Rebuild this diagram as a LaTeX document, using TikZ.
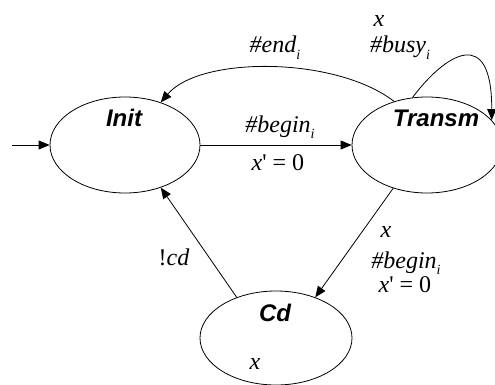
\documentclass[tikz,border=0pt]{standalone}
\usepackage{fontspec}
\newfontfamily\lserif{Liberation Serif}
\newfontfamily\lsans{Liberation Sans}
\usetikzlibrary{shapes.geometric,arrows.meta}
\newcommand\lsub[1]{\raisebox{-0.28em}{\fontsize{14}{14}\selectfont #1}}
\tikzset{
  st/.style={ellipse,draw,line width=0.8pt,inner sep=0pt,minimum width=150pt,minimum height=96pt},
  nm/.style={anchor=base,inner sep=0pt,font={\lsans\bfseries\itshape\fontsize{24}{28}\selectfont}},
  lb/.style={anchor=base,inner sep=0pt,font={\lserif\itshape\fontsize{24}{28}\selectfont}},
  tr/.style={line width=0.8pt,-{Triangle[length=11pt,width=9pt]}},
}
\begin{document}
\begin{tikzpicture}[x=1pt,y=-1pt]
\clip (0,0) rectangle (495,385);
\node[st] (I) at (125,145) {};
\node[st] (T) at (427,145) {};
\node[st,minimum width=152pt,minimum height=94pt] (C) at (276,338) {};
\node[nm] (Il) at (124,127) {Init};
\node[nm] (Tl) at (436,127) {Transm};
\node[nm] (Cl) at (275,321) {Cd};
\node[lb] (Cx) at (255,369) {x};
% initial
\coordinate (s) at (12,145);
\draw[tr] (s) -- (I.west);
% Init -> Transm
\draw[tr] (I.east) -- (T.west);
\node[lb] (l1) at (280,132) {\#begin\lsub{i}};
\node[lb] (l2) at (278,170) {x{\upshape\textquotesingle{} = 0}};
% Transm -> Init
\draw[tr] (T.127) .. controls (335,56) and (200,56) .. (I.50);
\node[lb] (l3) at (275,53) {\#end\lsub{i}};
% self loop
\draw[tr] (T.107) .. controls (446,53) and (492,25) .. (T.21);
\node[lb] (l4) at (379,27) {x};
\node[lb] (l5) at (400,53) {\#busy\lsub{i}};
% Transm -> Cd
\draw[tr] (T.232) -- (C.46);
\node[lb] (l6) at (386,237) {x};
\node[lb] (l7) at (406,268) {\#begin\lsub{i}};
\node[lb] (l8) at (405,292) {x{\upshape\textquotesingle{} = 0}};
% Cd -> Init
\draw[tr] (C.134) -- (I.-50);
\node[lb] (l9) at (174,265) {{\upshape !}cd};
\end{tikzpicture}
\end{document}
